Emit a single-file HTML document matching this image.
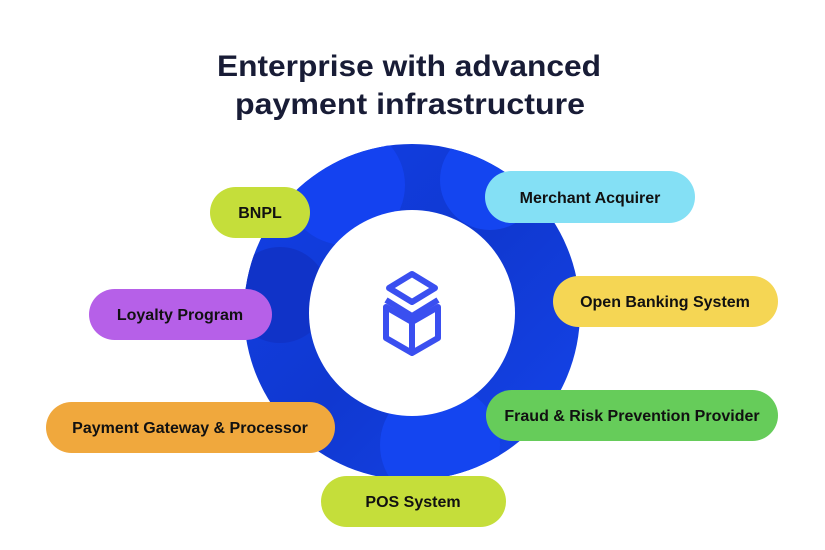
<!DOCTYPE html>
<html><head><style>
html,body{margin:0;padding:0;background:#fff;width:825px;height:550px;overflow:hidden}
svg{display:block}
text{font-family:"Liberation Sans",sans-serif}
</style></head><body>
<svg width="825" height="550" viewBox="0 0 825 550" xmlns="http://www.w3.org/2000/svg">
<defs>
<linearGradient id="g" x1="0" y1="0" x2="1" y2="1">
<stop offset="0" stop-color="#1240e8"/><stop offset="0.5" stop-color="#1038d0"/><stop offset="1" stop-color="#1545ec"/>
</linearGradient>
<clipPath id="c"><circle cx="412" cy="312" r="168"/></clipPath>
</defs>
<text x="409" y="76" text-anchor="middle" font-size="30" font-weight="bold" fill="#181c36" textLength="384" lengthAdjust="spacingAndGlyphs">Enterprise with advanced</text>
<text x="410" y="114" text-anchor="middle" font-size="30" font-weight="bold" fill="#181c36" textLength="350" lengthAdjust="spacingAndGlyphs">payment infrastructure</text>
<circle cx="412" cy="312" r="168" fill="url(#g)"/>
<g clip-path="url(#c)">
<circle cx="345" cy="185" r="60" fill="#1442f0"/>
<circle cx="490" cy="180" r="50" fill="#1445f0"/>
<circle cx="280" cy="295" r="48" fill="#1033c8"/>
<circle cx="440" cy="445" r="60" fill="#1445f0"/>
</g>
<circle cx="412" cy="313" r="103" fill="#fff"/>
<g fill="none" stroke="#3a4ff0" stroke-width="6" stroke-linejoin="round">
<path d="M412 274 L435 288 L412 302 L389 288 Z"/>
<path d="M386 300 L412 316 L438 300"/>
<path d="M386 307 L386 338 L412 353 L438 338 L438 307 L412 322 Z"/>
<path d="M412 322 L412 353"/>
</g>
<g font-size="16" font-weight="bold" fill="#111" text-anchor="middle">
<rect x="210" y="187" width="100" height="51" rx="25.5" fill="#c5de3a"/><text x="260" y="218">BNPL</text>
<rect x="485" y="171" width="210" height="52" rx="26" fill="#84e0f5"/><text x="590" y="203">Merchant Acquirer</text>
<rect x="553" y="276" width="225" height="51" rx="25.5" fill="#f5d654"/><text x="665" y="307">Open Banking System</text>
<rect x="89" y="289" width="183" height="51" rx="25.5" fill="#b660e8"/><text x="180" y="320">Loyalty Program</text>
<rect x="46" y="402" width="289" height="51" rx="25.5" fill="#f0a83d"/><text x="190" y="433">Payment Gateway &amp; Processor</text>
<rect x="486" y="390" width="292" height="51" rx="25.5" fill="#66cc5a"/><text x="632" y="421">Fraud &amp; Risk Prevention Provider</text>
<rect x="321" y="476" width="185" height="51" rx="25.5" fill="#c5de3a"/><text x="413" y="507">POS System</text>
</g>
</svg>
</body></html>
